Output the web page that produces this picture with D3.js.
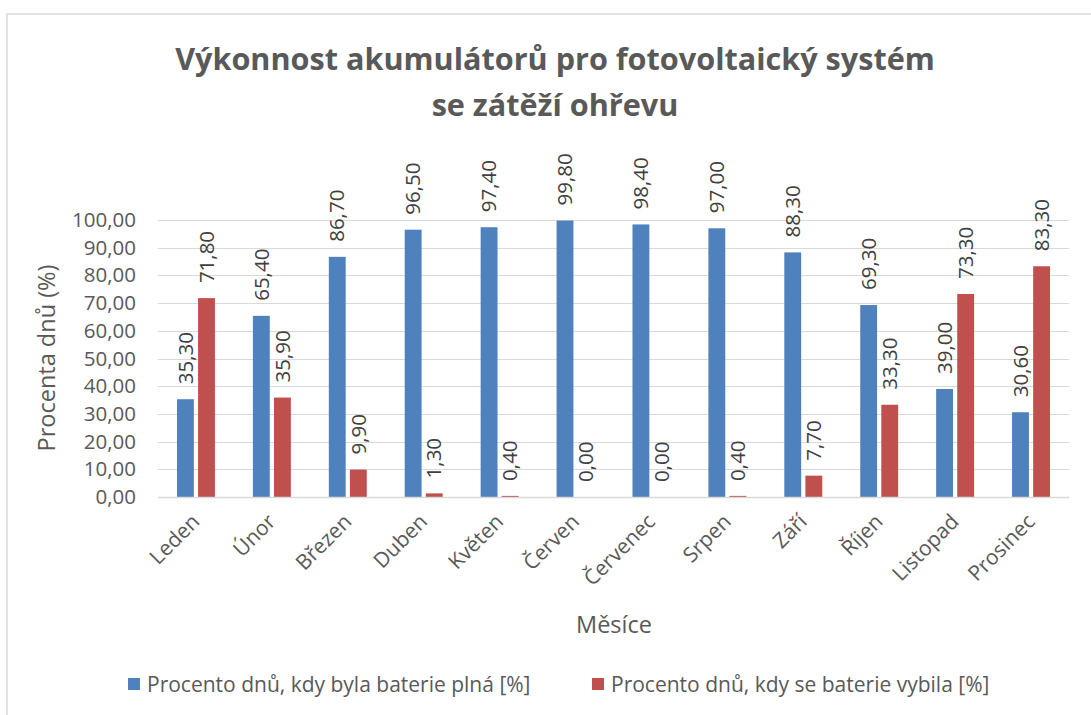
<!DOCTYPE html>
<html>
<head>
<meta charset="utf-8">
<script src="https://cdn.jsdelivr.net/npm/d3@7/dist/d3.min.js"></script>
<style>
  html, body { margin: 0; padding: 0; background: #fff; }
  text { font-family: "Open Sans", "Noto Sans", sans-serif; }
</style>
</head>
<body>
<svg id="chart" width="1091" height="715"></svg>
<script>
const titleLines = ["Výkonnost akumulátorů pro fotovoltaický systém", "se zátěží ohřevu"];
const months = ["Leden", "Únor", "Březen", "Duben", "Květen", "Červen", "Červenec", "Srpen", "Září", "Říjen", "Listopad", "Prosinec"];
const seriesNames = ["Procento dnů, kdy byla baterie plná [%]", "Procento dnů, kdy se baterie vybila [%]"];
const fullValues = [35.3, 65.4, 86.7, 96.5, 97.4, 99.8, 98.4, 97.0, 88.3, 69.3, 39.0, 30.6];
const emptyValues = [71.8, 35.9, 9.9, 1.3, 0.4, 0.0, 0.0, 0.4, 7.7, 33.3, 73.3, 83.3];
const yTicks = [0, 10, 20, 30, 40, 50, 60, 70, 80, 90, 100];
const yAxisTitle = "Procenta dnů (%)";
const xAxisTitle = "Měsíce";
const colors = ["#4F81BD", "#C0504D"];

const fmt = v => v.toFixed(2).replace(".", ",");
const svg = d3.select("#chart");

// chart border
svg.append("rect").attr("x", 7).attr("y", 14).attr("width", 1100).attr("height", 720)
  .attr("fill", "#fff").attr("stroke", "#d9d9d9").attr("stroke-width", 1.5);

// title
svg.append("text").attr("x", 555).attr("y", 70).attr("text-anchor", "middle")
  .attr("font-size", 30.6).attr("font-weight", "bold").attr("fill", "#595959")
  .text(titleLines[0]);
svg.append("text").attr("x", 555).attr("y", 116).attr("text-anchor", "middle")
  .attr("font-size", 30.6).attr("font-weight", "bold").attr("fill", "#595959")
  .text(titleLines[1]);

const x = d3.scaleBand().domain(months).range([158, 1069]).paddingInner(0.5).paddingOuter(0.25);
const xs = d3.scaleBand().domain([0, 1]).range([0, x.bandwidth()]).paddingInner(0.2);
const y = d3.scaleLinear().domain([0, 100]).range([497, 220]);

// gridlines
const grid = svg.append("g");
grid.selectAll("line").data(yTicks).join("line")
  .attr("x1", 158).attr("x2", 1069)
  .attr("y1", d => Math.round(y(d)) + 0.5).attr("y2", d => Math.round(y(d)) + 0.5)
  .attr("stroke", "#d9d9d9").attr("stroke-width", 1);

// y axis labels
const yAxis = d3.axisLeft(y).tickValues(yTicks).tickFormat(fmt).tickSize(0).tickPadding(0);
const ya = svg.append("g").attr("transform", "translate(136,0)").call(yAxis);
ya.select(".domain").remove();
ya.selectAll("text").attr("font-size", 20.5).attr("fill", "#595959")
  .attr("font-family", '"Open Sans", sans-serif');

// bars
const series = [fullValues, emptyValues];
series.forEach((vals, si) => {
  const g = svg.append("g");
  g.selectAll("rect").data(vals).join("rect")
    .attr("x", (d, i) => x(months[i]) + xs(si))
    .attr("width", xs.bandwidth())
    .attr("y", d => y(d))
    .attr("height", d => y(0) - y(d))
    .attr("fill", colors[si]);
  g.selectAll("text").data(vals).join("text")
    .attr("transform", (d, i) => `translate(${x(months[i]) + xs(si) + xs.bandwidth() / 2},${y(d) - 15}) rotate(-90)`)
    .attr("dy", "0.35em")
    .attr("text-anchor", "start")
    .attr("font-size", 20.5).attr("fill", "#404040")
    .text(d => fmt(d));
});

// x axis line
svg.append("line").attr("x1", 158).attr("x2", 1069)
  .attr("y1", Math.round(y(0)) + 0.5).attr("y2", Math.round(y(0)) + 0.5)
  .attr("stroke", "#d9d9d9").attr("stroke-width", 1.5);

// x axis labels
const xAxis = d3.axisBottom(x).tickSize(0).tickPadding(0);
const xa = svg.append("g").attr("transform", `translate(0,${y(0)})`).call(xAxis);
xa.select(".domain").remove();
xa.selectAll("text")
  .attr("font-size", 21).attr("fill", "#595959").attr("font-family", '"Open Sans", sans-serif')
  .attr("text-anchor", "end")
  .attr("y", 0).attr("dy", 0)
  .attr("transform", "translate(5,26) rotate(-45)");

// axis titles
svg.append("text").attr("transform", "translate(47,358) rotate(-90)")
  .attr("text-anchor", "middle").attr("dy", "0.35em")
  .attr("font-size", 23.5).attr("fill", "#595959").text(yAxisTitle);
svg.append("text").attr("x", 614).attr("y", 633).attr("text-anchor", "middle")
  .attr("font-size", 23.5).attr("fill", "#595959").text(xAxisTitle);

// legend
const legendX = [128, 592];
seriesNames.forEach((name, i) => {
  svg.append("rect").attr("x", legendX[i]).attr("y", 678).attr("width", 12).attr("height", 12).attr("fill", colors[i]);
  svg.append("text").attr("x", legendX[i] + 19).attr("y", 692)
    .attr("font-size", 21).attr("fill", "#595959").text(name);
});
</script>
</body>
</html>
